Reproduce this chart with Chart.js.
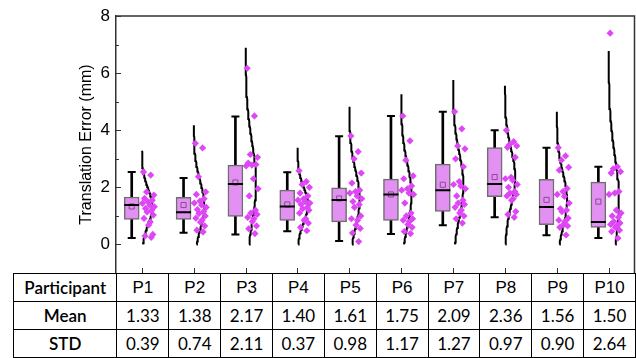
<!DOCTYPE html>
<html lang="en">

<head>
  <meta charset="UTF-8">
  <title>Translation Error per Participant</title>
  <style>
    body { margin: 0; background: #fff; }
    #wrap { width: 636px; height: 358px; overflow: hidden; position: relative; }
    canvas { display: block; }
    #stats { border-collapse: collapse; table-layout: fixed; margin-left: 13px; }
    #stats td { border: 1px solid #000; height: 27px; padding: 0; text-align: center;
      font-family: Lato, sans-serif; font-size: 17px; color: #000; white-space: nowrap; }
    #stats td.head { font-family: "Liberation Sans", Arial, sans-serif; font-size: 17px; }
    #stats td.lab { font-weight: 600; }
  </style>
</head>

<body>
  <div id="wrap">
    <canvas id="myChart" width="636" height="273"></canvas>
    <table id="stats"></table>
  </div>
</body>

</html>
<script src="https://cdn.jsdelivr.net/npm/chart.js"></script>

<script>
  // values
  const participants = ['P1', 'P2', 'P3', 'P4', 'P5', 'P6', 'P7', 'P8', 'P9', 'P10'];
  const meanVals = [1.33, 1.38, 2.17, 1.40, 1.61, 1.75, 2.09, 2.36, 1.56, 1.50];
  const stdVals = [0.39, 0.74, 2.11, 0.37, 0.98, 1.17, 1.27, 0.97, 0.90, 2.64];

  const whiskerHigh = [2.54, 2.33, 4.48, 2.53, 3.79, 4.50, 4.65, 4.00, 3.39, 2.72];
  const q3 = [1.66, 1.65, 2.78, 1.90, 1.98, 2.29, 2.81, 3.39, 2.28, 2.18];
  const median = [1.38, 1.13, 2.12, 1.33, 1.56, 1.75, 1.90, 2.12, 1.31, 0.79];
  const q1 = [0.88, 0.88, 0.98, 0.84, 0.79, 0.84, 1.16, 1.67, 0.69, 0.60];
  const whiskerLow = [0.23, 0.41, 0.35, 0.46, 0.12, 0.37, 0.67, 0.95, 0.32, 0.23];

  // normal curve drawn beside each box
  const curveSigma = [0.62, 0.86, 1.45, 0.61, 0.99, 1.08, 1.13, 0.98, 0.95, 1.62];
  const curveTop = [3.28, 4.17, 6.89, 3.39, 4.82, 5.26, 5.76, 5.56, 4.65, 6.77];

  const errorsP1 = [2.54, 2.43, 1.84, 1.73, 1.61, 1.55, 1.49, 1.44, 1.38, 1.32, 1.26, 1.2, 1.14, 1.03, 0.91, 0.79, 0.68, 0.35, 0.3, 0.25];
  const errorsP2 = [3.54, 3.38, 2.37, 1.84, 1.75, 1.6, 1.52, 1.45, 1.38, 1.3, 1.22, 1.15, 1.08, 1.0, 0.92, 0.85, 0.78, 0.65, 0.5, 0.44];
  const errorsP3 = [6.17, 4.5, 3.15, 3.05, 2.85, 2.8, 2.78, 2.75, 2.3, 1.95, 1.7, 1.2, 1.1, 1.05, 0.95, 0.9, 0.8, 0.65, 0.55, 0.38];
  const errorsP4 = [2.58, 2.2, 2.1, 2.0, 1.8, 1.7, 1.6, 1.55, 1.5, 1.45, 1.4, 1.3, 1.25, 1.2, 1.1, 0.9, 0.85, 0.75, 0.6, 0.48];
  const errorsP5 = [3.8, 3.25, 3.0, 2.5, 2.15, 1.9, 1.85, 1.8, 1.7, 1.6, 1.5, 1.4, 1.3, 1.0, 0.9, 0.85, 0.68, 0.56, 0.4, 0.1];
  const errorsP6 = [4.5, 3.63, 2.95, 2.4, 2.3, 2.05, 1.95, 1.9, 1.8, 1.75, 1.45, 1.1, 1.0, 0.9, 0.85, 0.8, 0.7, 0.6, 0.45, 0.38];
  const errorsP7 = [4.65, 4.05, 3.45, 3.35, 3.0, 2.72, 2.2, 2.1, 2.05, 1.95, 1.7, 1.55, 1.45, 1.4, 1.3, 1.2, 1.1, 1.0, 0.9, 0.75];
  const errorsP8 = [4.0, 3.6, 3.5, 3.45, 3.4, 3.05, 2.35, 2.3, 2.25, 2.1, 2.0, 1.85, 1.8, 1.75, 1.7, 1.6, 1.55, 1.15, 1.05, 0.95];
  const errorsP9 = [3.39, 3.1, 2.95, 2.7, 2.6, 1.96, 1.85, 1.75, 1.68, 1.45, 1.25, 1.2, 1.15, 0.92, 0.85, 0.8, 0.7, 0.65, 0.6, 0.33];
  const errorsP10 = [7.4, 2.72, 2.65, 2.55, 2.5, 1.85, 1.8, 1.75, 1.2, 1.1, 1.0, 0.95, 0.8, 0.75, 0.7, 0.65, 0.6, 0.5, 0.45, 0.22];
  const allErrors = [errorsP1, errorsP2, errorsP3, errorsP4, errorsP5, errorsP6, errorsP7, errorsP8, errorsP9, errorsP10];

  const yTicks = [0, 2, 4, 6, 8];
  const yMinorTicks = [1, 3, 5, 7];

  // drawing settings
  const boxShift = -0.197;   // box sits left of the category centre
  const curveWidth = 0.2;    // peak width of the normal curve (category units)
  const jitter = [0.03, 0.17, 0.09, 0.23, 0.05, 0.2, 0.12, 0.01, 0.15, 0.24, 0.07, 0.19, 0.1, 0.22, 0.04, 0.16, 0.13, 0.21, 0.06, 0.18];
  const axisColor = '#333';

  // table under the plot
  function buildTable() {
    const t = document.getElementById('stats');
    let html = '<colgroup><col style="width:103.5px">';
    participants.forEach(() => html += '<col style="width:51.9px">');
    html += '</colgroup>';
    html += '<tr><td class="lab">Participant</td>' + participants.map(p => `<td class="head">${p}</td>`).join('') + '</tr>';
    html += '<tr><td class="lab">Mean</td>' + meanVals.map(v => `<td>${v.toFixed(2)}</td>`).join('') + '</tr>';
    html += '<tr><td class="lab">STD</td>' + stdVals.map(v => `<td>${v.toFixed(2)}</td>`).join('') + '</tr>';
    t.innerHTML = html;
  }
  buildTable();

  const stems = [], boxes = [], medians = [], means = [], caps = [], points = [];
  participants.forEach((p, i) => {
    const x = i + 1 + boxShift;
    stems.push({ x: x, y: [whiskerLow[i], whiskerHigh[i]] });
    boxes.push({ x: x, y: [q1[i], q3[i]] });
    medians.push({ x: x, y: median[i] });
    means.push({ x: x, y: meanVals[i] });
    caps.push({ x: x, y: whiskerLow[i] });
    caps.push({ x: x, y: whiskerHigh[i] });
    allErrors[i].forEach((v, k) => points.push({ x: i + 1 + jitter[k % jitter.length], y: v }));
  });

  const curveSets = participants.map((p, i) => {
    const mu = meanVals[i], s = curveSigma[i], top = curveTop[i];
    const lo = Math.max(0, mu - (top - mu));
    const pts = [];
    const n = 80;
    for (let k = 0; k <= n; k++) {
      const v = lo + (top - lo) * k / n;
      const z = (v - mu) / s;
      pts.push({ x: i + 1 + curveWidth * Math.exp(-0.5 * z * z), y: v });
    }
    return {
      type: 'line', data: pts, borderColor: '#000', borderWidth: 2,
      pointRadius: 0, fill: false, tension: 0, order: 2
    };
  });

  const framePlugin = {
    id: 'frame',
    afterDraw(chart) {
      const { ctx, chartArea: a, scales } = chart;
      const y = scales.y, x = scales.x;
      ctx.save();
      ctx.strokeStyle = axisColor;
      ctx.lineWidth = 1.5;
      ctx.beginPath();
      ctx.moveTo(a.left, a.top);
      ctx.lineTo(a.right, a.top);
      ctx.lineTo(a.right, a.bottom);
      ctx.stroke();
      ctx.lineWidth = 1;
      ctx.beginPath();
      yTicks.forEach(v => {
        const py = Math.round(y.getPixelForValue(v)) + 0.5;
        ctx.moveTo(a.left, py); ctx.lineTo(a.left + 5, py);
      });
      yMinorTicks.forEach(v => {
        const py = Math.round(y.getPixelForValue(v)) + 0.5;
        ctx.moveTo(a.left, py); ctx.lineTo(a.left + 3, py);
      });
      participants.forEach((p, i) => {
        const px = Math.round(x.getPixelForValue(i + 1)) + 0.5;
        ctx.moveTo(px, a.bottom); ctx.lineTo(px, a.bottom - 5);
      });
      ctx.stroke();
      ctx.restore();
    }
  };

  const ctx = document.getElementById('myChart');
  new Chart(ctx, {
    data: {
      datasets: [
        {
          type: 'scatter', data: points, pointStyle: 'rectRot', pointRadius: 3.6,
          backgroundColor: 'rgb(222,70,246)', borderColor: 'rgb(222,70,246)', borderWidth: 0, order: 1
        },
        ...curveSets,
        {
          type: 'scatter', data: medians, pointStyle: 'line', pointRadius: 7.5,
          borderColor: '#000', borderWidth: 2, order: 3
        },
        {
          type: 'scatter', data: means, pointStyle: 'rect', pointRadius: 3.6,
          backgroundColor: 'rgba(0,0,0,0)', borderColor: '#8b4b93', borderWidth: 1, order: 3
        },
        {
          type: 'scatter', data: caps, pointStyle: 'line', pointRadius: 4,
          borderColor: '#000', borderWidth: 2, order: 3
        },
        {
          type: 'bar', data: boxes, barThickness: 15, grouped: false,
          backgroundColor: 'rgb(226,144,241)', borderColor: '#6f6f6f', borderWidth: 1.5,
          borderSkipped: false, order: 4
        },
        {
          type: 'bar', data: stems, barThickness: 2, grouped: false,
          backgroundColor: '#000', borderWidth: 0, order: 5
        }
      ]
    },
    options: {
      responsive: false,
      animation: false,
      layout: { autoPadding: false, padding: { left: 77, top: 16, right: 1.5, bottom: 0 } },
      plugins: { legend: { display: false }, tooltip: { enabled: false } },
      scales: {
        x: { type: 'linear', min: 0.5, max: 10.5, offset: false, display: false },
        y: {
          min: -1,
          max: 8,
          afterBuildTicks: s => { s.ticks = yTicks.map(v => ({ value: v })); },
          afterFit: s => { s.width = 39; s.paddingTop = 0; s.paddingBottom = 0; },
          ticks: { color: '#000', padding: 6, font: { family: 'Liberation Sans', size: 17 } },
          grid: { display: false, drawTicks: false },
          border: { display: true, color: axisColor, width: 1.5 },
          title: {
            display: true, text: 'Translation Error (mm)', color: '#000',
            font: { family: 'Liberation Sans', size: 16 }, padding: 0
          }
        }
      }
    },
    plugins: [framePlugin]
  });
</script>
